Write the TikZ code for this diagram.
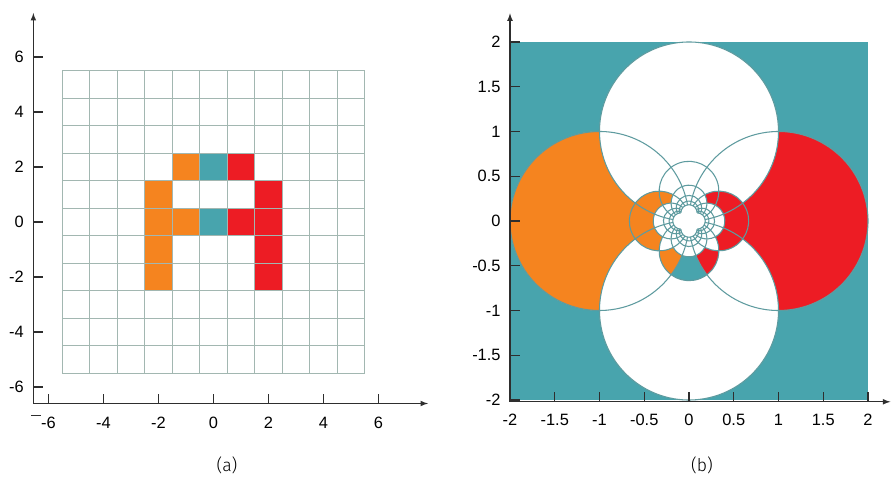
\documentclass[tikz,border=0pt]{standalone}
\usepackage{fontspec}
\setmainfont{Liberation Sans}
\newfontfamily\capfont{Fira Sans Light}

\definecolor{cellorange}{HTML}{F5841F}
\definecolor{cellred}{HTML}{ED1C24}
\definecolor{cellteal}{HTML}{48A4AD}
\definecolor{gridlight}{HTML}{A2B7B1}
\definecolor{griddark}{HTML}{5E9B9F}
\definecolor{axisgray}{HTML}{2E2E2E}

\newcommand*{\gmin}{-5.5}
\newcommand*{\gmax}{5.5}

\begin{document}
\begin{tikzpicture}
[
	x=0.03cm, y=0.03cm,
	axis/.style={draw=axisgray, line width=1.2pt, -latex},
	tick/.style={draw=axisgray, line width=1.1pt},
	ticklabel/.style={font=\fontsize{14}{16}\selectfont, inner sep=1pt},
	caption/.style={font=\capfont\fontsize{15}{17}\selectfont, inner sep=1pt},
	gridA/.style={draw=gridlight, line width=1.2pt},
	gridB/.style={draw=griddark, line width=0.9pt},
	declare function={invu(\p,\q)=\p/(\p*\p+\q*\q); invv(\p,\q)=-\q/(\p*\p+\q*\q);}
]
	\useasboundingbox (0,0) rectangle (891,480);

	% (a) the grid with the letter
	\begin{scope}[shift={(213.5,258)}, scale=27.5]
		\foreach \i/\j/\c in {-2/1/cellorange, -2/0/cellorange, -2/-1/cellorange, -2/-2/cellorange,
			-1/0/cellorange, -1/2/cellorange, 0/0/cellteal, 0/2/cellteal,
			1/0/cellred, 1/2/cellred, 2/1/cellred, 2/0/cellred, 2/-1/cellred, 2/-2/cellred}
			\fill[\c] (\i-0.5,\j-0.5) rectangle ++(1,1);
		\foreach \k in {-5.5,-4.5,...,5.5} {
			\draw[gridA] (\k,\gmin) -- (\k,\gmax);
			\draw[gridA] (\gmin,\k) -- (\gmax,\k);
		}

		% axes
		\draw[axis] (-6.55,-6.6) -- (7.8,-6.6);
		\draw[axis] (-6.55,-6.6) -- (-6.55,7.6);
		\foreach \t [count=\n] in {-6,-4,...,6} {
			\draw[tick] (\t,-6.6) -- ++(0,0.36);
			\node[ticklabel] (ax\n) at (\t,-7.3) {\t};
			\draw[tick] (-6.55,\t) -- ++(0.36,0);
			\node[ticklabel,anchor=east] (ay\n) at (-6.85,\t) {\t};
		}
		\draw[axisgray, line width=0.7pt] (-6.64,-7.05) -- (-6.27,-7.05);
	\end{scope}
	\node[caption] (capa) at (227,15) {(a)};

	% (b) the same grid under w = 1/z
	\begin{scope}[shift={(689,259)}, scale=89.5]
		\fill[cellteal] (-2,-2) rectangle (2,2);
		\fill[white] (1,0) circle[radius=1] (-1,0) circle[radius=1]
			(0,1) circle[radius=1] (0,-1) circle[radius=1];

		% images of the coloured cells
		\foreach \i/\j/\c in {-2/1/cellorange, -2/0/cellorange, -2/-1/cellorange, -2/-2/cellorange,
			-1/0/cellorange, -1/2/cellorange, 0/2/cellteal,
			1/0/cellred, 1/2/cellred, 2/1/cellred, 2/0/cellred, 2/-1/cellred, 2/-2/cellred} {
			\pgfmathsetmacro\a{\i-0.5}
			\pgfmathsetmacro\b{\j-0.5}
			\fill[\c] plot[domain=0:1, samples=40] ({invu(\a+\x,\b)},{invv(\a+\x,\b)})
				-- plot[domain=0:1, samples=40] ({invu(\a+1,\b+\x)},{invv(\a+1,\b+\x)})
				-- plot[domain=0:1, samples=40] ({invu(\a+1-\x,\b+1)},{invv(\a+1-\x,\b+1)})
				-- plot[domain=0:1, samples=40] ({invu(\a,\b+1-\x)},{invv(\a,\b+1-\x)}) -- cycle;
		}

		% images of the grid lines
		\foreach \c in {0.5,1.5,...,5.5} {
			\pgfmathsetmacro\crad{1/(2*\c)}
			\pgfmathsetmacro\cang{2*atan(5.5/\c)}
			\draw[gridB] (\crad,0) ++(-\cang:\crad) arc[start angle=-\cang, end angle=\cang, radius=\crad];
			\draw[gridB] (-\crad,0) ++(180-\cang:\crad) arc[start angle=180-\cang, end angle=180+\cang, radius=\crad];
			\draw[gridB] (0,-\crad) ++(-90-\cang:\crad) arc[start angle=-90-\cang, end angle=-90+\cang, radius=\crad];
			\draw[gridB] (0,\crad) ++(90-\cang:\crad) arc[start angle=90-\cang, end angle=90+\cang, radius=\crad];
		}

		% axes
		\draw[axis] (-2,-2.02) -- (2.25,-2.02);
		\draw[axis] (-2,-2.02) -- (-2,2.32);
		\foreach \t [count=\n] in {-2,-1.5,-1,-0.5,0,0.5,1,1.5,2} {
			\draw[tick] (\t,-2.02) -- ++(0,0.11);
			\node[ticklabel] (bx\n) at (\t,-2.22) {\t};
			\draw[tick] (-2,\t) -- ++(0.11,0);
			\node[ticklabel,anchor=east] (by\n) at (-2.09,\t) {\t};
		}
	\end{scope}
	\node[caption] (capb) at (702,15) {(b)};

\end{tikzpicture}
\end{document}
